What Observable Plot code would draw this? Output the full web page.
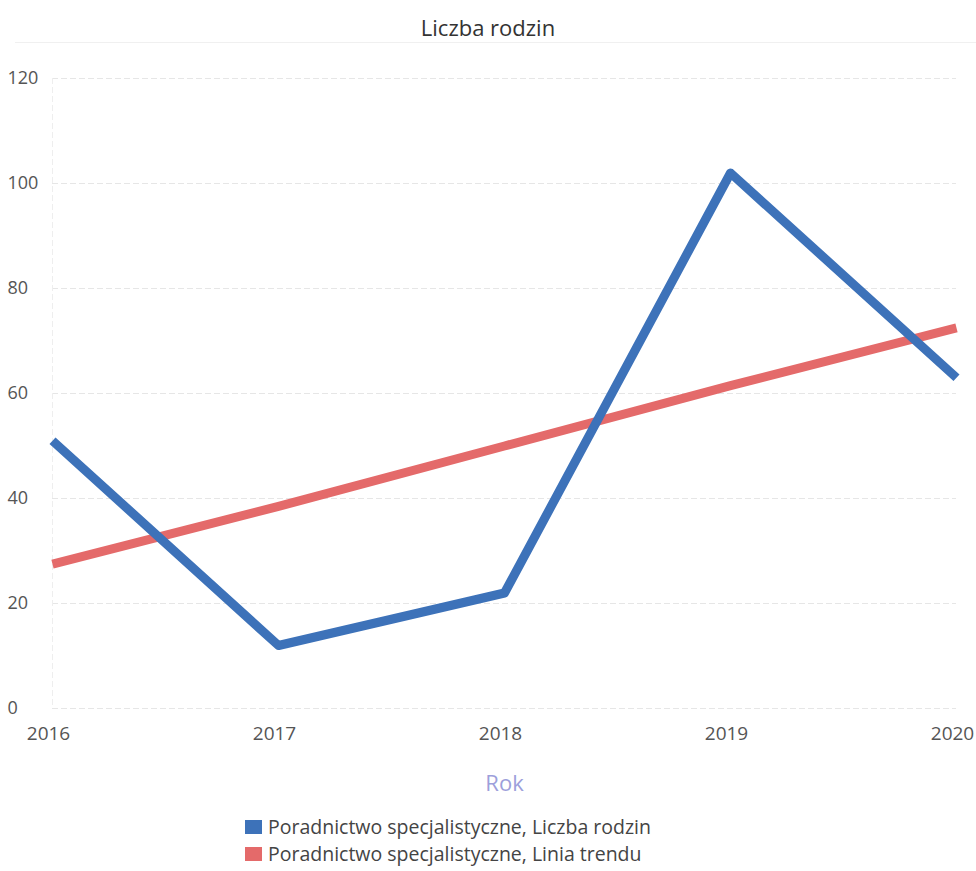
<!DOCTYPE html>
<html><head><meta charset="utf-8">
<script src="https://cdn.jsdelivr.net/npm/d3@7"></script>
<script src="https://cdn.jsdelivr.net/npm/@observablehq/plot@0.6"></script>
<style>
body{margin:0;background:#fff;font-family:"Open Sans",sans-serif;}
#title{height:50px;line-height:54px;text-align:center;font-size:22px;color:#333;position:relative;}
#title:after{content:"";position:absolute;left:15px;right:0;top:42px;border-top:1px solid #f0f0f0;}
#legend{margin-left:245px;margin-top:3px;font-size:19.5px;color:#444;line-height:27px;}
.sw{display:inline-block;width:17px;height:14px;margin-right:6px;vertical-align:0px;}
</style></head><body>
<div id="title">Liczba rodzin</div>
<div id="chart"></div>
<div id="legend"></div>
<script>
const years = [2016, 2017, 2018, 2019, 2020];
const rodziny = [51, 12, 22, 102, 63];
const trend = [27.5, 38.5, 50, 61.5, 72.5];
const seriesNames = ["Poradnictwo specjalistyczne, Liczba rodzin", "Poradnictwo specjalistyczne, Linia trendu"];
const colors = ["#3d72b9", "#e46a6a"];
const yTicks = [0, 20, 40, 60, 80, 100, 120];

const data = years.map((y, i) => ({year: y, value: rodziny[i], s: seriesNames[0]}));
const trendData = years.map((y, i) => ({year: y, value: trend[i], s: seriesNames[1]}));

const chart = Plot.plot({
  width: 976, height: 760,
  marginLeft: 52, marginRight: 20, marginTop: 28, marginBottom: 102,
  style: {fontFamily: "Open Sans, sans-serif", fontSize: "18px", color: "#555", overflow: "visible"},
  x: {domain: [2016, 2020], ticks: years, tickFormat: d => String(d), label: null},
  y: {domain: [0, 120], ticks: yTicks, label: null},
  marks: [
    Plot.gridY(yTicks, {stroke: "#e6e6e6", strokeOpacity: 1, strokeDasharray: "6,3"}),
    Plot.ruleX([2016], {stroke: "#eeeeee", strokeDasharray: "6,3"}),
    Plot.axisY({ticks: yTicks, tickSize: 0, textAnchor: "start", dx: -36, fill: "#555", fontSize: 18}),
    Plot.axisX({ticks: years, tickSize: 0, tickPadding: 18, tickFormat: d => String(d), fill: "#555", fontSize: 19, dx: -4}),
    Plot.text(["Rok"], {frameAnchor: "bottom", dy: 82, fill: "#9d9fdb", fontSize: 22}),
    Plot.line(trendData, {x: "year", y: "value", stroke: colors[1], strokeWidth: 9, strokeLinecap: "butt"}),
    Plot.line(data, {x: "year", y: "value", stroke: colors[0], strokeWidth: 9, strokeLinejoin: "round", strokeLinecap: "butt"})
  ]
});
document.getElementById("chart").appendChild(chart);

const leg = document.getElementById("legend");
seriesNames.forEach((n, i) => {
  const d = document.createElement("div");
  d.innerHTML = `<span class="sw" style="background:${colors[i]}"></span>${n}`;
  leg.appendChild(d);
});
</script>
</body></html>
